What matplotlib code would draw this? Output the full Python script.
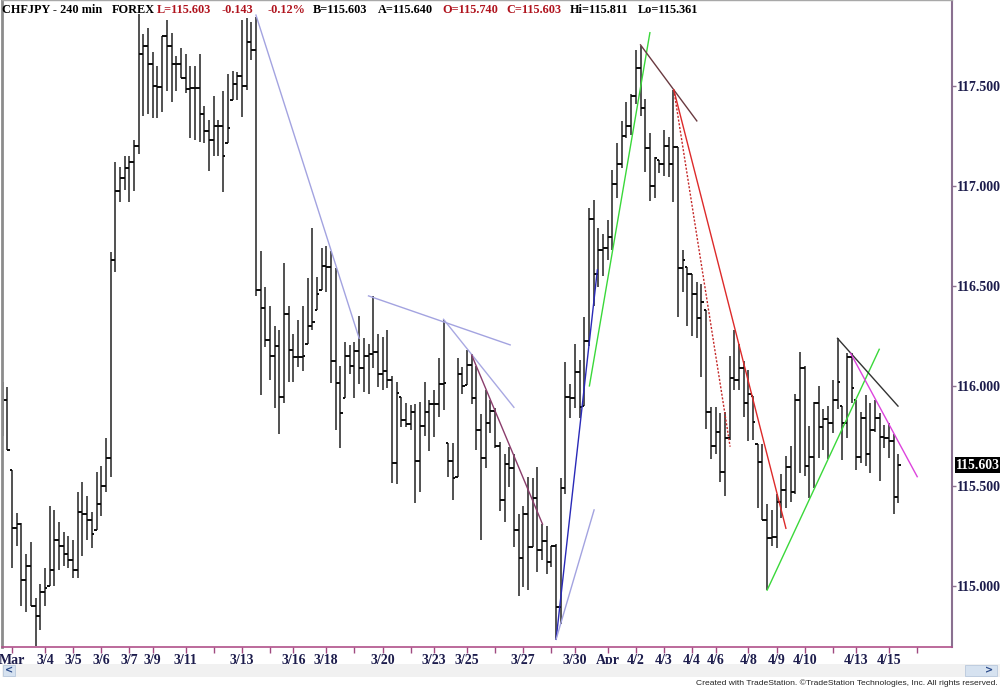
import numpy as np
import matplotlib
matplotlib.use('Agg')
import matplotlib.pyplot as plt
from matplotlib.transforms import blended_transform_factory
from matplotlib.patches import Rectangle

# CHFJPY 240 min bars (index = bar number)
highs = [
    116.02, 115.995, 115.58, 115.365, 115.315, 115.16, 115.22, 114.94, 115.01, 115.09,
    115.40, 115.38, 115.32, 115.27, 115.25, 115.23, 115.47, 115.52, 115.45, 115.37,
    115.57, 115.60, 115.74, 116.67, 117.12, 117.095, 117.15, 117.15, 117.23, 117.857,
    117.76, 117.79, 117.67, 117.60, 117.75, 117.83, 117.765, 117.65, 117.69, 117.66,
    117.60, 117.60, 117.66, 117.40, 117.33, 117.45, 117.33, 117.475, 117.56, 117.575,
    117.57, 117.83, 117.84, 117.82, 117.845, 116.675, 116.495, 116.40, 116.30, 116.28,
    116.615, 116.40, 116.26, 116.33, 116.40, 116.54, 116.79, 116.545, 116.69, 116.70,
    116.675, 116.59, 116.10, 116.22, 116.205, 116.22, 116.35, 116.24, 116.21, 116.45,
    116.26, 116.245, 116.28, 116.05, 116.02, 115.945, 115.915, 115.905, 115.91, 115.92,
    116.02, 115.93, 115.98, 116.14, 116.33, 115.715, 115.715, 116.14, 116.095, 116.18,
    116.16, 116.10, 115.86, 115.98, 115.93, 115.89, 115.72, 115.66, 115.695, 115.66,
    115.36, 115.40, 115.545, 115.537, 115.595, 115.31, 115.30, 115.20, 115.21, 115.537,
    116.12, 116.01, 116.21, 116.13, 116.345, 116.89, 116.93, 116.79, 116.76, 116.83,
    117.08, 117.215, 117.325, 117.42, 117.46, 117.68, 117.70, 117.432, 117.262, 117.145,
    117.13, 117.28, 117.245, 117.478, 117.195, 116.68, 116.592, 116.56, 116.52, 116.51,
    116.38, 115.892, 115.895, 115.862, 115.87, 116.15, 116.28, 116.21, 116.125, 116.08,
    115.95, 115.71, 115.71, 115.41, 115.38, 115.46, 115.56, 115.648, 115.70, 115.958,
    116.167, 116.10, 115.80, 115.92, 116.00, 115.882, 115.898, 116.028, 116.237, 115.898,
    116.162, 116.162, 115.928, 115.87, 115.953, 115.912, 115.928, 115.862, 115.804, 115.812,
    115.758, 115.658,
]
lows = [
    115.75, 115.68, 115.09, 115.20, 114.90, 114.87, 114.90, 114.70, 114.78, 114.90,
    115.00, 115.00, 115.08, 115.10, 115.09, 115.04, 115.04, 115.15, 115.23, 115.19,
    115.28, 115.35, 115.47, 115.545, 116.57, 116.92, 116.98, 116.92, 116.975, 117.16,
    117.35, 117.36, 117.34, 117.34, 117.37, 117.475, 117.42, 117.475, 117.54, 117.465,
    117.24, 117.23, 117.22, 117.215, 117.075, 117.15, 117.15, 116.97, 117.215, 117.43,
    117.43, 117.345, 117.48, 117.63, 116.45, 115.955, 116.195, 116.03, 115.89, 115.76,
    115.915, 116.02, 116.02, 116.095, 116.075, 116.21, 116.28, 116.38, 116.48, 116.47,
    116.015, 115.78, 115.69, 115.94, 116.06, 115.94, 116.01, 115.97, 115.96, 116.09,
    115.995, 115.98, 115.987, 115.515, 115.51, 115.795, 115.795, 115.78, 115.415, 115.47,
    115.75, 115.675, 115.745, 115.845, 115.88, 115.545, 115.43, 115.545, 115.96, 116.005,
    115.91, 115.68, 115.23, 115.59, 115.765, 115.69, 115.375, 115.32, 115.495, 115.195,
    114.95, 114.995, 114.98, 115.195, 115.07, 115.13, 115.06, 115.095, 114.73, 114.81,
    115.46, 115.84, 115.89, 115.84, 115.90, 116.20, 116.40, 116.495, 116.55, 116.63,
    116.68, 116.937, 117.087, 117.237, 117.254, 117.41, 117.35, 117.07, 116.925, 116.937,
    117.062, 117.05, 117.045, 116.92, 116.345, 116.47, 116.30, 116.25, 116.236, 116.045,
    115.782, 115.632, 115.66, 115.52, 115.45, 115.73, 115.98, 115.98, 115.845, 115.725,
    115.73, 115.387, 115.33, 114.98, 115.20, 115.187, 115.34, 115.387, 115.42, 115.46,
    115.562, 115.55, 115.44, 115.487, 115.637, 115.678, 115.632, 115.765, 115.882, 115.628,
    115.737, 115.912, 115.578, 115.612, 115.60, 115.565, 115.77, 115.525, 115.687, 115.637,
    115.358, 115.415,
]
closes = [
    115.93, 115.68, 115.29, 115.31, 115.03, 115.10, 114.90, 114.85, 114.97, 114.99,
    115.08, 115.23, 115.20, 115.16, 115.13, 115.08, 115.37, 115.36, 115.33, 115.26,
    115.41, 115.50, 115.64, 116.63, 116.975, 117.04, 117.09, 117.12, 117.20, 117.657,
    117.70, 117.61, 117.50, 117.495, 117.75, 117.70, 117.61, 117.61, 117.54, 117.485,
    117.49, 117.49, 117.36, 117.275, 117.23, 117.30, 117.30, 117.15, 117.29, 117.51,
    117.55, 117.50, 117.72, 117.68, 116.48, 116.39, 116.23, 116.15, 116.20, 115.945,
    116.36, 116.18, 116.145, 116.145, 116.15, 116.30, 116.32, 116.46, 116.60, 116.595,
    116.125, 116.015, 115.865, 116.15, 116.10, 116.175, 116.09, 116.15, 116.16, 116.17,
    116.06, 116.075, 116.03, 115.615, 115.965, 115.83, 115.81, 115.87, 115.625, 115.80,
    115.87, 115.91, 115.91, 116.01, 116.015, 115.625, 115.54, 116.06, 116.00, 116.105,
    115.94, 115.78, 115.64, 115.815, 115.875, 115.70, 115.43, 115.61, 115.59, 115.28,
    115.14, 115.36, 115.195, 115.44, 115.18, 115.225, 115.12, 115.20, 114.895, 115.49,
    115.945, 115.94, 116.07, 115.895, 116.225, 116.832, 116.56, 116.68, 116.69, 116.745,
    117.01, 117.11, 117.25, 117.30, 117.45, 117.587, 117.39, 117.19, 117.00, 117.137,
    117.11, 117.20, 117.107, 117.195, 116.587, 116.63, 116.56, 116.46, 116.34, 116.42,
    115.87, 115.70, 115.77, 115.567, 115.737, 116.04, 116.03, 116.087, 115.915, 115.957,
    115.817, 115.62, 115.33, 115.24, 115.245, 115.42, 115.48, 115.595, 115.47, 115.93,
    116.09, 115.60, 115.645, 115.915, 115.792, 115.832, 115.815, 115.93, 116.02, 115.815,
    116.145, 115.99, 115.645, 115.84, 115.658, 115.778, 115.837, 115.742, 115.737, 115.725,
    115.442, 115.603,
]
first_open = 115.95
last_price = 115.603

# date axis: bar index of each session tick and its label
tick_idx = [2, 9, 15, 21, 27, 32, 39, 45, 51, 57, 62, 69, 75, 81, 87, 92, 99, 105,
            111, 117, 122, 129, 135, 141, 147, 152, 159, 165, 171, 177, 182, 189, 195]
tick_lbl = ['Mar', '3/4', '3/5', '3/6', '3/7', '3/9', '3/11', '', '3/13', '', '3/16',
            '3/18', '', '3/20', '', '3/23', '3/25', '', '3/27', '', '3/30', 'Apr',
            '4/2', '4/3', '4/4', '4/6', '4/8', '4/9', '4/10', '', '4/13', '4/15', '']
price_ticks = [115.0, 115.5, 116.0, 116.5, 117.0, 117.5]

# hand drawn trendlines: (bar0, price0, bar1, price1, colour, style)
trendlines = [
    (54, 117.853, 76, 116.237, '#a3a3e0', '-'),
    (78, 116.449, 108.2, 116.204, '#a3a3e0', '-'),
    (94, 116.332, 109, 115.892, '#a8a8e2', '-'),
    (100, 116.153, 115.1, 115.308, '#8a3d6c', '-'),
    (118, 114.732, 126.8, 116.579, '#2a2ab8', '-'),
    (118, 114.732, 126.1, 115.379, '#a3a3e0', '-'),
    (125.1, 115.999, 138.0, 117.765, '#3ad83a', '-'),
    (136, 117.704, 148, 117.324, '#6a3a40', '-'),
    (143.1, 117.479, 167.0, 115.287, '#dd2a2a', '-'),
    (143.1, 117.479, 155.1, 115.695, '#c42828', (0, (1.5, 1.2))),
    (163, 114.978, 186.9, 116.182, '#3ad83a', '-'),
    (178, 116.237, 190.9, 115.898, '#333333', '-'),
    (180.8, 116.162, 195.0, 115.545, '#dd44dd', '-'),
]

title_parts = [
    ('CHFJPY - 240 min', '#000000', 2),
    ('FOREX', '#000000', 112),
    ('L=115.603', '#b0141e', 157),
    ('-0.143', '#b0141e', 222),
    ('-0.12%', '#b0141e', 267),
    ('B=115.603', '#000000', 313),
    ('A=115.640', '#000000', 378),
    ('O=115.740', '#b0141e', 442),
    ('C=115.603', '#b0141e', 506),
    ('Hi=115.811', '#000000', 570),
    ('Lo=115.361', '#000000', 638),
]

SERIF = ['Liberation Serif', 'DejaVu Serif']
NAVY = '#1c1c4c'

fig = plt.figure(figsize=(10, 6.89), dpi=100)
fig.patch.set_facecolor('white')
ax = fig.add_axes([0.002, 0.0614, 0.9497, 0.9386])

idx = np.arange(len(closes))
highs = np.array(highs)
lows = np.array(lows)
closes = np.array(closes)
opens = np.clip(np.r_[first_open, closes[:-1]], lows, highs)

ax.vlines(idx, lows, highs, color='#3c3c3c', lw=1.25)
ax.hlines(opens, idx - 0.5, idx, color='#0a0a0a', lw=1.4)
ax.hlines(closes, idx, idx + 0.5, color='#0a0a0a', lw=1.4)

for b0, p0, b1, p1, col, ls in trendlines:
    ax.plot([b0, b1], [p0, p1], color=col, lw=1.0, ls=ls)

ax.set_xlim(-0.15, 202.35)
ax.set_ylim(114.695, 117.9285)

ax.set_xticks(tick_idx)
ax.set_xticklabels(tick_lbl)
ax.yaxis.tick_right()
ax.set_yticks(price_ticks)
ax.set_yticklabels([f'{v:.3f}' for v in price_ticks])
ax.tick_params(axis='x', direction='out', length=4, width=1, color='#a04a80', pad=1.5)
ax.tick_params(axis='y', direction='out', length=3, width=1, color='#8a7090', pad=1)
for lab in ax.get_xticklabels() + ax.get_yticklabels():
    lab.set_fontfamily(SERIF)
    lab.set_fontweight('bold')
    lab.set_fontsize(10)
    lab.set_color(NAVY)

for side, col, w in [('right', '#8a7090', 1.5), ('bottom', '#b0508a', 1.2),
                     ('top', '#a8a8a8', 1.0), ('left', '#8c8c8c', 2.0)]:
    ax.spines[side].set_color(col)
    ax.spines[side].set_linewidth(w)

# current price marker
trans = blended_transform_factory(ax.transAxes, ax.transData)
ax.text(1.005, last_price, f'{last_price:.3f}', transform=trans, ha='left', va='center',
        color='white', fontsize=10, fontweight='bold', family=SERIF,
        bbox=dict(boxstyle='square,pad=0.1', fc='black', ec='none'), clip_on=False)

# header line
for txt, col, xpx in title_parts:
    fig.text(xpx / 1000, 1 - 13 / 689, txt, color=col, ha='left', va='baseline',
             fontsize=8.8, family=SERIF, fontweight='bold')

# scroll bar strip and footer
fig.patches.append(Rectangle((0.002, 12 / 689), 0.998, 13 / 689, transform=fig.transFigure,
                             fc='#f1f1f1', ec='none', zorder=0))
fig.patches.append(Rectangle((0.003, 13 / 689), 0.012, 11 / 689, transform=fig.transFigure,
                             fc='#d6e2f0', ec='#b8c8dc', lw=0.6, zorder=1))
fig.patches.append(Rectangle((0.965, 13 / 689), 0.032, 11 / 689, transform=fig.transFigure,
                             fc='#d6e2f0', ec='#b8c8dc', lw=0.6, zorder=1))
fig.text(0.009, 18.5 / 689, '<', ha='center', va='center', fontsize=7, color='#2a4a8a',
         fontweight='bold')
fig.text(0.989, 18.5 / 689, '>', ha='center', va='center', fontsize=7, color='#2a4a8a',
         fontweight='bold')
fig.text(0.998, 2 / 689, 'Created with TradeStation. \u00a9TradeStation Technologies, Inc. All rights reserved.',
         ha='right', va='bottom', fontsize=6.1, color='#222222',
         family=['Liberation Sans Narrow', 'Liberation Sans', 'DejaVu Sans'])

fig.savefig('out.png', dpi=100)
